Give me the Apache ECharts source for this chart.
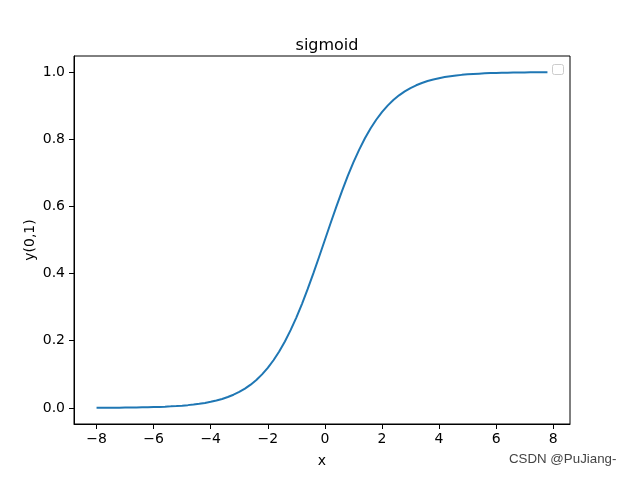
<!DOCTYPE html>
<html><head><meta charset="utf-8">
<script src="https://cdn.jsdelivr.net/npm/echarts@6/dist/echarts.min.js"></script>
<style>html,body{margin:0;padding:0;background:#fff}#c{width:634px;height:478px}</style>
</head><body><div id="c"></div>
<script>
const xValues = [-8,-7.8,-7.6,-7.4,-7.2,-7,-6.8,-6.6,-6.4,-6.2,-6,-5.8,-5.6,-5.4,-5.2,-5,-4.8,-4.6,-4.4,-4.2,-4,-3.8,-3.6,-3.4,-3.2,-3,-2.8,-2.6,-2.4,-2.2,-2,-1.8,-1.6,-1.4,-1.2,-1,-0.8,-0.6,-0.4,-0.2,0,0.2,0.4,0.6,0.8,1,1.2,1.4,1.6,1.8,2,2.2,2.4,2.6,2.8,3,3.2,3.4,3.6,3.8,4,4.2,4.4,4.6,4.8,5,5.2,5.4,5.6,5.8,6,6.2,6.4,6.6,6.8,7,7.2,7.4,7.6,7.8];
const yValues = [0.0003,0.0004,0.0005,0.0006,0.0007,0.0009,0.0011,0.0014,0.0017,0.0020,0.0025,0.0030,0.0037,0.0045,0.0055,0.0067,0.0082,0.0100,0.0121,0.0148,0.0180,0.0219,0.0266,0.0323,0.0392,0.0474,0.0573,0.0691,0.0832,0.0998,0.1192,0.1419,0.1680,0.1978,0.2315,0.2689,0.3100,0.3543,0.4013,0.4502,0.5,0.5498,0.5987,0.6457,0.6900,0.7311,0.7685,0.8022,0.8320,0.8581,0.8808,0.9002,0.9168,0.9309,0.9427,0.9526,0.9608,0.9677,0.9734,0.9781,0.9820,0.9852,0.9879,0.9900,0.9918,0.9933,0.9945,0.9955,0.9963,0.9970,0.9975,0.9980,0.9983,0.9986,0.9989,0.9991,0.9993,0.9994,0.9995,0.9996];
const xTicks = [-8,-6,-4,-2,0,2,4,6,8];
const yTicks = [0,0.2,0.4,0.6,0.8,1.0];
const titleText = 'sigmoid';
const xLabel = 'x';
const yLabel = 'y(0,1)';
const watermark = 'CSDN @PuJiang-';

const FONT = 'DejaVu Sans';
const minus = s => String(s).replace('-', '\u2212');
const chart = echarts.init(document.getElementById('c'), null, {renderer:'canvas'});
chart.setOption({
  animation:false,
  backgroundColor:'#fff',
  title:{text:titleText,left:322,top:33,textAlign:'center',textStyle:{fontFamily:FONT,fontSize:16,fontWeight:'normal',color:'#000'}},
  grid:{left:74,top:56,right:64,bottom:54,show:true,borderColor:'#000',borderWidth:1,backgroundColor:'transparent'},
  xAxis:{type:'value',min:-8.79,max:8.59,
    name:xLabel,nameLocation:'middle',nameGap:30,nameMoveOverlap:false,nameTextStyle:{fontFamily:FONT,fontSize:14,color:'#000'},
    axisLine:{show:true,onZero:false,lineStyle:{color:'#000',width:1}},
    axisTick:{show:true,inside:false,length:5,lineStyle:{color:'#000'},customValues:xTicks},
    axisLabel:{margin:8,fontFamily:FONT,fontSize:14,color:'#000',customValues:xTicks,formatter:v=>minus(v)},
    splitLine:{show:false}},
  yAxis:{type:'value',min:-0.048,max:1.048,
    name:yLabel,nameLocation:'middle',nameGap:37,nameMoveOverlap:false,nameRotate:90,nameTextStyle:{fontFamily:FONT,fontSize:14,color:'#000'},
    axisLine:{show:true,onZero:false,lineStyle:{color:'#000',width:1}},
    axisTick:{show:true,inside:false,length:5,lineStyle:{color:'#000'},customValues:yTicks},
    axisLabel:{margin:9,fontFamily:FONT,fontSize:14,color:'#000',customValues:yTicks,formatter:v=>v.toFixed(1)},
    splitLine:{show:false}},
  series:[{type:'line',data:xValues.map((x,i)=>[x,yValues[i]]),showSymbol:false,symbol:'none',
    lineStyle:{color:'#1f77b4',width:2},z:3}],
  graphic:[
    {type:'rect',left:552,top:64,shape:{width:11,height:10,r:2},style:{fill:'#fff',stroke:'#cccccc',lineWidth:1},z:10},
    {type:'text',left:508,top:452,style:{text:watermark,fontFamily:'Liberation Sans',fontSize:13.3,fill:'#444',stroke:'#fff',lineWidth:2},z:10}
  ]
});
</script></body></html>
